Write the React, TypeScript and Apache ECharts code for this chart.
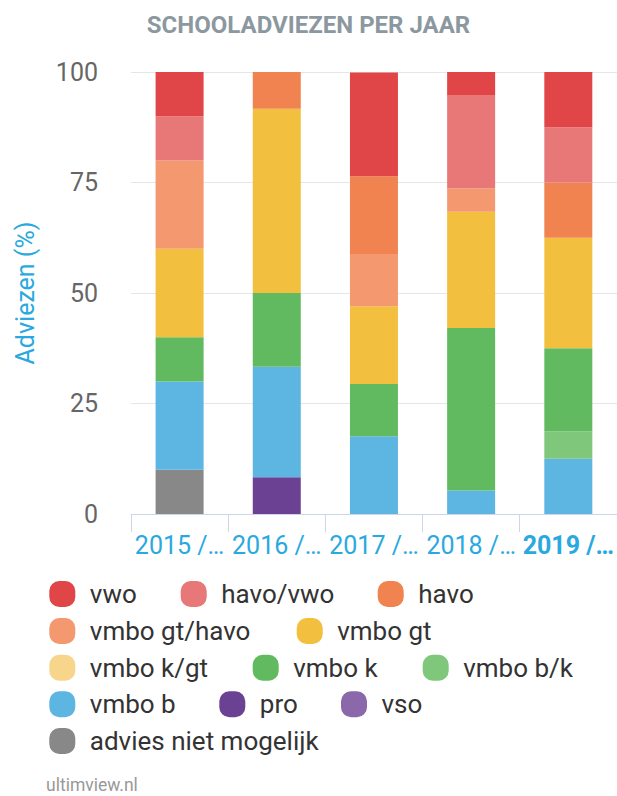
import React, { useEffect, useRef } from "react";
import * as echarts from "echarts";

const categories = ["2015 / 2016", "2016 / 2017", "2017 / 2018", "2018 / 2019", "2019 / 2020"];
const yTicks = [0, 25, 50, 75, 100];

// series values per year (percent), bottom of stack first
const adviesNietMogelijk = [10, 0, 0, 0, 0];
const vso = [0, 0, 0, 0, 0];
const pro = [0, 8.3, 0, 0, 0];
const vmboB = [20, 25, 17.6, 5.3, 12.5];
const vmboBK = [0, 0, 0, 0, 6.25];
const vmboK = [10, 16.7, 11.8, 36.8, 18.75];
const vmboKGt = [0, 0, 0, 0, 0];
const vmboGt = [20, 41.7, 17.6, 26.3, 25];
const vmboGtHavo = [20, 0, 11.8, 5.3, 0];
const havo = [0, 8.3, 17.6, 0, 12.5];
const havoVwo = [10, 0, 0, 21.1, 12.5];
const vwo = [10, 0, 23.5, 5.2, 12.5];

const seriesDefs = [
  { name: "advies niet mogelijk", data: adviesNietMogelijk, color: "#888888" },
  { name: "vso", data: vso, color: "#8a68aa" },
  { name: "pro", data: pro, color: "#6b4194" },
  { name: "vmbo b", data: vmboB, color: "#5db5e1" },
  { name: "vmbo b/k", data: vmboBK, color: "#7fc77b" },
  { name: "vmbo k", data: vmboK, color: "#62ba60" },
  { name: "vmbo k/gt", data: vmboKGt, color: "#f7d68b" },
  { name: "vmbo gt", data: vmboGt, color: "#f3bf3e" },
  { name: "vmbo gt/havo", data: vmboGtHavo, color: "#f3986f" },
  { name: "havo", data: havo, color: "#f08350" },
  { name: "havo/vwo", data: havoVwo, color: "#e87777" },
  { name: "vwo", data: vwo, color: "#e04548" },
];

// legend layout: [name, icon left x, row]
const legendLayout: [string, number, number][] = [
  ["vwo", 49.3, 0],
  ["havo/vwo", 180.7, 0],
  ["havo", 377.7, 0],
  ["vmbo gt/havo", 49.3, 1],
  ["vmbo gt", 296.7, 1],
  ["vmbo k/gt", 49.3, 2],
  ["vmbo k", 252.7, 2],
  ["vmbo b/k", 422.7, 2],
  ["vmbo b", 49.3, 3],
  ["pro", 219.3, 3],
  ["vso", 341, 3],
  ["advies niet mogelijk", 49.3, 4],
];
const legendRowCenters = [594, 631, 667.7, 704.3, 741];

const FONT = "Roboto";
const BLUE = "#29a9e0";
const ICON =
  "path://M10,0 H16 A10,10 0 0 1 26,10 V16 A10,10 0 0 1 16,26 H10 A10,10 0 0 1 0,16 V10 A10,10 0 0 1 10,0 Z";
const ITEM_W = 45;

export default function App() {
  const ref = useRef<HTMLDivElement>(null);
  useEffect(() => {
    if (!ref.current) return;
    const chart = echarts.init(ref.current, undefined, { renderer: "svg" });
    chart.setOption({
      animation: false,
      textStyle: { fontFamily: FONT },
      title: {
        text: "SCHOOLADVIEZEN PER JAAR",
        left: "center",
        top: 8,
        textStyle: { fontFamily: FONT, fontSize: 24, fontWeight: "bold", color: "#8c989f" },
      },
      grid: { left: 131, right: 0, top: 72, bottom: 282, containLabel: false },
      legend: legendLayout.map(([name, x, row]) => ({
        data: [name],
        left: x,
        top: legendRowCenters[row] - 13,
        orient: "horizontal",
        padding: 0,
        itemGap: 0,
        itemWidth: ITEM_W,
        itemHeight: 26,
        icon: ICON,
        selectedMode: false,
        textStyle: { fontFamily: FONT, fontSize: 26, lineHeight: 26, color: "#333333" },
      })),
      xAxis: {
        type: "category",
        data: categories,
        axisLine: { show: true, lineStyle: { color: "#ccd6eb", width: 1 } },
        axisTick: { show: true, length: 18, lineStyle: { color: "#ccd6eb" } },
        axisLabel: {
          interval: 0,
          margin: 19,
          color: BLUE,
          fontSize: 25,
          fontFamily: FONT,
          formatter: (v: string, i: number) => {
            const s = v.slice(0, 6) + "…";
            return i === 4 ? `{b|${s}}` : s;
          },
          rich: {
            b: { fontWeight: "bold", fontSize: 25, color: BLUE, fontFamily: FONT },
          },
        },
      },
      yAxis: {
        type: "value",
        min: yTicks[0],
        max: yTicks[yTicks.length - 1],
        interval: 25,
        name: "Adviezen (%)",
        nameLocation: "middle",
        nameGap: 93,
        nameTextStyle: { color: BLUE, fontSize: 25, fontFamily: FONT },
        axisLine: { show: false },
        axisTick: { show: false },
        axisLabel: { color: "#666666", fontSize: 25, margin: 33, fontFamily: FONT },
        splitLine: { lineStyle: { color: "#e6e6e6", width: 1 } },
      },
      series: seriesDefs.map((s) => ({
        name: s.name,
        type: "bar",
        stack: "total",
        barWidth: 48,
        data: s.data,
        itemStyle: { color: s.color },
        emphasis: { disabled: true },
      })),
      graphic: [
        {
          type: "text",
          left: 46,
          top: 776,
          style: { text: "ultimview.nl", fill: "#999999", fontSize: 17.5, fontFamily: FONT },
        },
      ],
    });
    return () => chart.dispose();
  }, []);
  return (
    <div
      ref={ref}
      style={{ position: "fixed", left: 0, top: 0, width: 617, height: 796, background: "#fff" }}
    />
  );
}
